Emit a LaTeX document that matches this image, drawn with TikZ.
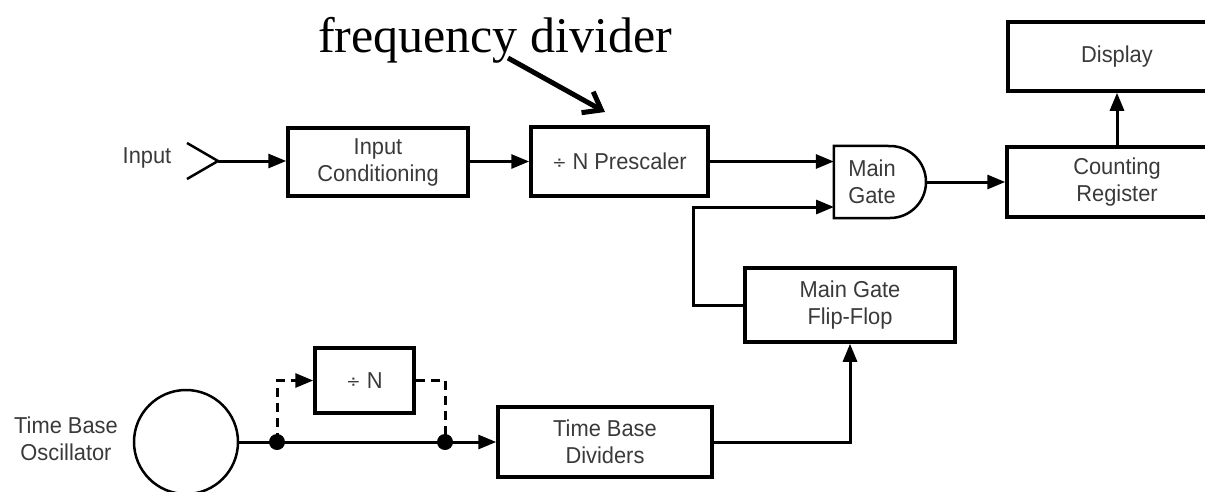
\documentclass[tikz,border=0pt]{standalone}
\usepackage{fontspec}
\newfontfamily\lab[FakeStretch=0.95]{Liberation Sans}
\newfontfamily\ser{Liberation Serif}
\usetikzlibrary{arrows.meta,calc}
\definecolor{txt}{HTML}{3A3A3A}
\tikzset{
  blk/.style={draw=black, line width=3.5pt, rectangle, inner sep=0pt, align=center,
              text=txt, font=\lab\fontsize{23}{27}\selectfont},
  lbl/.style={inner sep=0pt, align=center, text=txt, font=\lab\fontsize{23}{27}\selectfont},
  conn/.style={line width=3pt},
  arr/.style={conn, -{Triangle[length=18pt,width=14pt]}},
  dsh/.style={line width=3pt, dash pattern=on 9pt off 6pt},
  dot/.style={circle, fill=black, inner sep=0pt, minimum size=16pt}
}
\newcommand{\dvs}{\raisebox{1pt}{\fontspec{DejaVu Sans}\fontsize{17}{20}\selectfont ÷}}
\begin{document}
\begin{tikzpicture}[x=1pt,y=-1pt]
\useasboundingbox (0,0) rectangle (1205,491);
\clip (0,0) rectangle (1205,491);
% title annotation
\node[anchor=base, font=\ser\fontsize{50}{52}\selectfont, inner sep=0pt] (fd) at (495,52) {frequency divider};
\coordinate (fdA) at (508,58);
\coordinate (fdB) at (605,112);
\draw[line width=5pt, -{Straight Barb[length=16pt,width=24pt,line width=5pt]}] (fdA) -- (fdB);

% input
\node[lbl] (inlbl) at (147,158) {Input};
\coordinate (inA) at (187,143);
\coordinate (inApex) at (218,161);
\coordinate (inB) at (187,179);
\draw[line width=2.5pt] (inA) -- (inApex) -- (inB);

% blocks
\node[blk, minimum width=180pt, minimum height=68pt] (incond) at (378,162) {Input\\Conditioning};
\node[blk, minimum width=177pt, minimum height=69pt] (presc) at (619.5,161.5) {\dvs{} N Prescaler};
\node[blk, minimum width=220pt, minimum height=70pt] (count) at (1117,182) {Counting\\Register};
\node[blk, minimum width=218pt, minimum height=69pt] (disp) at (1117,56.5) {Display};
\node[blk, minimum width=210pt, minimum height=74pt] (ff) at (850,305) {Main Gate\\Flip-Flop};
\node[blk, minimum width=214pt, minimum height=70pt] (tbd) at (605,442) {Time Base\\Dividers};
\node[blk, minimum width=99pt, minimum height=65pt] (divN) at (364.5,380.5) {\dvs{} N};

% main gate (AND shape)
\node[inner sep=0pt, minimum width=92pt, minimum height=72pt] (gate) at (880,182) {};
\draw[line width=2.5pt] (gate.north west) -- (890,146) arc[start angle=-90, end angle=90, radius=36] -- (gate.south west) -- cycle;
\node[lbl] (gatelbl) at (872,182) {Main\\Gate};
\coordinate (gin2) at (834,207);
\coordinate (gout) at (926,182);

% oscillator
\node[draw, circle, line width=2.5pt, minimum size=104pt, inner sep=0pt] (osc) at (186,442) {};
\node[lbl] (osclbl) at (66,439) {Time Base\\Oscillator};
\node[dot] (d1) at (277,442) {};
\node[dot] (d2) at (445,442) {};

% connectors
\draw[arr] (inApex) -- (inApex -| incond.west);
\draw[arr] (incond.east |- presc.west) -- (presc.west);
\draw[arr] (presc.east) -- (presc.east -| gate.west);
\draw[arr] (gout) -- (count.west);
\draw[arr] (count.north) -- (disp.south);
\draw[arr] (ff.west) -| (693,207) -- (gin2);
\draw[arr] (tbd.east) -| (ff.south);
\draw[conn] (osc.east) -- (d1.center) -- (d2.center);
\draw[arr] (d2.center) -- (tbd.west);
\draw[dsh] (d1.center) -- (d1.center |- divN.west) -- ++(20,0);
\draw[arr] ($(d1.center |- divN.west)+(18,0)$) -- (divN.west);
\draw[dsh] (divN.east) -- (divN.east -| d2.center) -- (d2.center);
\end{tikzpicture}
\end{document}
